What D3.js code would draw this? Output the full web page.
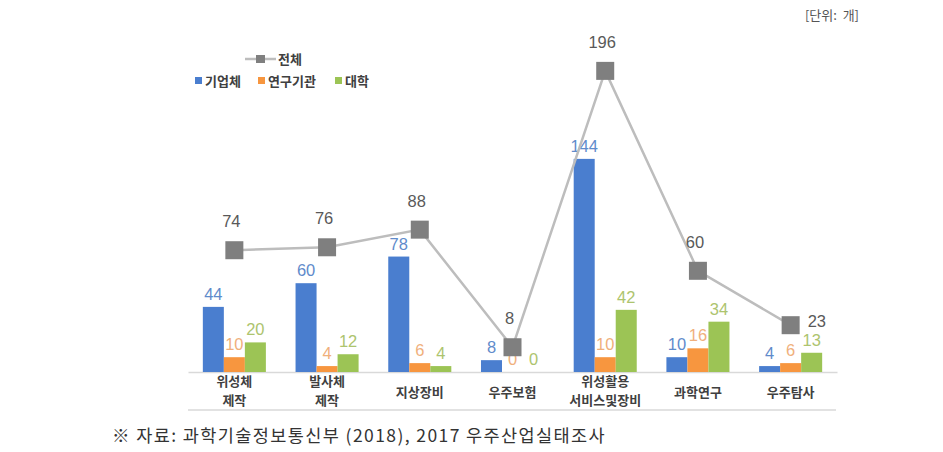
<!DOCTYPE html>
<html><head><meta charset="utf-8">
<script src="https://cdn.jsdelivr.net/npm/d3@7"></script>
<style>
body{margin:0;background:#fff;}
svg{display:block;font-family:"Noto Sans CJK KR","Noto Sans",sans-serif;}
</style></head>
<body>
<svg id="c" width="943" height="452"></svg>
<script>
const categories = [["위성체","제작"],["발사체","제작"],["지상장비"],["우주보험"],["위성활용","서비스및장비"],["과학연구"],["우주탐사"]];
const seriesNames = ["기업체","연구기관","대학"];
const companies = [44,60,78,8,144,10,4];
const institutes = [10,4,6,0,10,16,6];
const universities = [20,12,4,0,42,34,13];
const totals = [74,76,88,8,196,60,23];
const totalName = "전체";
const unitText = "[단위:  개]";
const sourceText = "※ 자료: 과학기술정보통신부 (2018), 2017 우주산업실태조사";

const barColors = ["#4a7ecf","#f7963f","#9cc455"];
const labelColors = ["#5f8bcb","#f0b07c","#adc46e"];
const numFont = "'Liberation Sans',Arial,sans-serif";

const svg = d3.select("#c");
const keys = categories.map((c,i)=>String(i));
const x0 = d3.scaleBand().domain(keys).range([188,837]).paddingInner(0.32).paddingOuter(0.16);
const x1 = d3.scaleBand().domain(seriesNames).range([0,x0.bandwidth()]);
const yBar = d3.scaleLinear().domain([0,200]).range([372,76]);
const yLine = d3.scaleLinear().domain([0,200]).range([359,65]);
const series = [companies,institutes,universities];

// axis line
const xAxis = d3.axisBottom(x0).tickSize(0).tickFormat("");
const ax = svg.append("g").attr("transform","translate(0,372)").call(xAxis);
ax.select(".domain").attr("stroke","#d9d9d9").attr("stroke-width",1.5);

// bars
series.forEach((vals,si)=>{
  const g = svg.append("g");
  g.selectAll("rect").data(vals).join("rect")
    .attr("x",(d,i)=>x0(keys[i])+x1(seriesNames[si]))
    .attr("width",x1.bandwidth())
    .attr("y",d=>yBar(d))
    .attr("height",d=>yBar(0)-yBar(d))
    .attr("fill",barColors[si]);
});
// bar labels
series.forEach((vals,si)=>{
  svg.append("g").selectAll("text").data(vals).join("text")
    .attr("x",(d,i)=>x0(keys[i])+x1(seriesNames[si])+x1.bandwidth()/2)
    .attr("y",d=>yBar(d)-7)
    .attr("text-anchor","middle")
    .attr("font-size",16.5).attr("font-family",numFont)
    .attr("fill",labelColors[si])
    .text(d=>d);
});

// line
const cx = i => x0(keys[i])+x0.bandwidth()/2;
const line = d3.line().x((d,i)=>cx(i)).y(d=>yLine(d));
svg.append("path").datum(totals).attr("d",line)
  .attr("fill","none").attr("stroke","#bdbdbd").attr("stroke-width",2.5);
svg.append("g").selectAll("rect").data(totals).join("rect")
  .attr("x",(d,i)=>cx(i)-9).attr("y",d=>yLine(d)-9)
  .attr("width",18).attr("height",18).attr("fill","#7f7f7f");
svg.append("g").selectAll("text").data(totals).join("text")
  .attr("x",(d,i)=> i===totals.length-1 ? cx(i)+17 : cx(i)-3)
  .attr("y",(d,i)=> i===totals.length-1 ? yLine(d)+2 : yLine(d)-23)
  .attr("text-anchor",(d,i)=> i===totals.length-1 ? "start":"middle")
  .attr("font-size",16.5).attr("font-family",numFont)
  .attr("fill","#595959")
  .text(d=>d);

// x labels
const xl = svg.append("g");
categories.forEach((lines,i)=>{
  const y0 = lines.length===1 ? 397 : 386;
  lines.forEach((ln,j)=>{
    xl.append("text").attr("text-anchor","middle")
      .attr("font-size",13).attr("font-weight","bold").attr("fill","#404040")
      .attr("x",cx(i)).attr("y",y0+j*19).text(ln);
  });
});
svg.append("line").attr("x1",188).attr("x2",836).attr("y1",410).attr("y2",410)
  .attr("stroke","#d9d9d9").attr("stroke-width",1.5);

// legend
const lg = svg.append("g").attr("font-size",13).attr("font-weight","bold").attr("fill","#404040");
lg.append("line").attr("x1",245).attr("x2",276).attr("y1",59).attr("y2",59).attr("stroke","#bdbdbd").attr("stroke-width",2.5);
lg.append("rect").attr("x",256).attr("y",55).attr("width",9).attr("height",8).attr("fill","#7f7f7f");
lg.append("text").attr("x",278).attr("y",64).text(totalName);
const legX = [195,258,335];
seriesNames.forEach((n,i)=>{
  lg.append("rect").attr("x",legX[i]).attr("y",77).attr("width",7).attr("height",7).attr("fill",barColors[i]);
  lg.append("text").attr("x",legX[i]+10).attr("y",86).text(n);
});

// unit & source
svg.append("text").attr("x",859).attr("y",20).attr("text-anchor","end")
  .attr("font-size",13).attr("fill","#555").style("white-space","pre").text(unitText);
svg.append("text").attr("x",112).attr("y",442)
  .attr("font-size",17.5).attr("letter-spacing",1.4).attr("fill","#333").text(sourceText);
</script>
</body></html>
